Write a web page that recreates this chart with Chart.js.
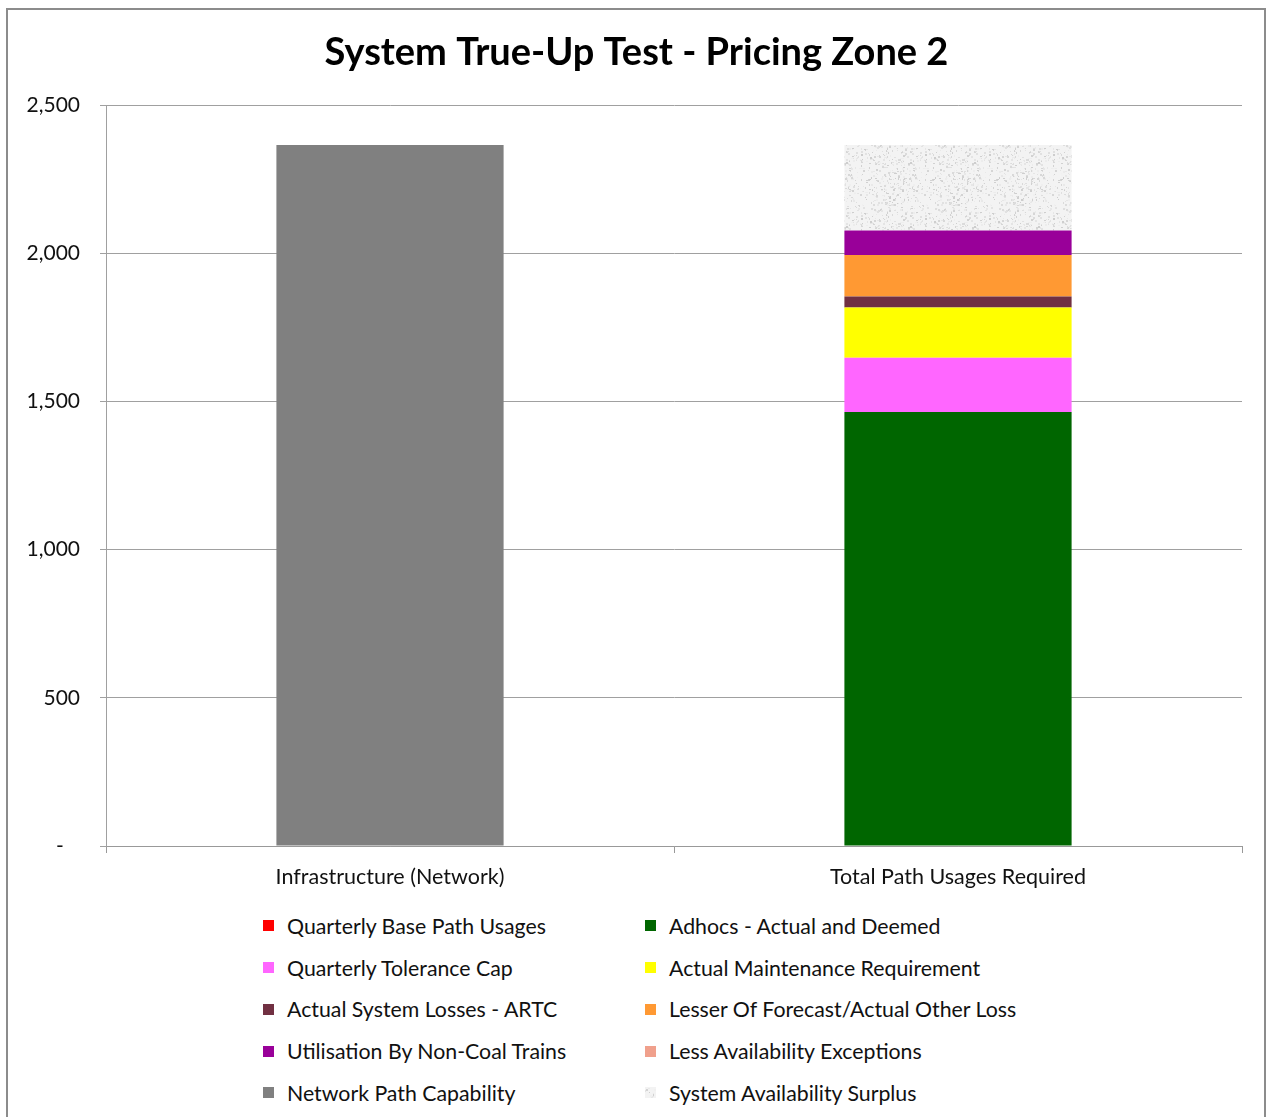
<!DOCTYPE html>
<html>
<head>
<meta charset="utf-8">
<title>System True-Up Test - Pricing Zone 2</title>
<script src="https://cdn.jsdelivr.net/npm/chart.js@4.4.1/dist/chart.umd.min.js"></script>
<style>
    html, body { margin: 0; padding: 0; background: #fff; }
    #frame {
        position: absolute; left: 6px; top: 8px; width: 1260px; height: 1130px;
        border: 2px solid #8c8c8c; box-sizing: border-box;
    }
    #chart-wrap { position: absolute; left: 0; top: 0; width: 1266px; height: 900px; }
    #legend {
        position: absolute; left: 263px; top: 905px;
        display: grid; grid-template-columns: 382px 420px; grid-auto-rows: 41.75px;
        font-family: Lato, "Open Sans", sans-serif; font-size: 21.3px; color: #111;
    }
    .legend-item { display: flex; align-items: center; white-space: nowrap; }
    .legend-box { width: 11px; height: 11px; margin-right: 13px; flex: none; }
</style>
</head>
<body>
<div id="frame"></div>
<div id="chart-wrap"><canvas id="truth-chart"></canvas></div>
<div id="legend"></div>
<script>
// ===================================================================
// DATA
// ===================================================================
const categories = ['Infrastructure (Network)', 'Total Path Usages Required'];

const quarterlyBasePathUsages = [0, 0];
const adhocsActualDeemed = [0, 1464];
const quarterlyToleranceCap = [0, 183];
const actualMaintenance = [0, 170];
const systemLossesArtc = [0, 37];
const otherLoss = [0, 140];
const nonCoalTrains = [0, 83];
const availabilityExceptions = [0, 0];
const networkPathCapability = [2365, 0];
const availabilitySurplus = [0, 288];

const yTicks = [0, 500, 1000, 1500, 2000, 2500];

document.addEventListener('DOMContentLoaded', () => {
    // ===================================================================
    // SURPLUS TEXTURE (light speckled grey, deterministic)
    // ===================================================================
    function makeSpeckle() {
        const c = document.createElement('canvas');
        c.width = 64; c.height = 64;
        const g = c.getContext('2d');
        g.fillStyle = '#f3f3f3';
        g.fillRect(0, 0, 64, 64);
        let seed = 12345;
        const next = () => { seed = (seed * 1103515245 + 12345) % 2147483648; return seed / 2147483648; };
        for (let i = 0; i < 500; i++) {
            const shade = 205 + Math.floor(next() * 40);
            g.fillStyle = `rgb(${shade},${shade},${shade})`;
            g.fillRect(Math.floor(next() * 64), Math.floor(next() * 64), 1 + Math.floor(next() * 2), 1 + Math.floor(next() * 2));
        }
        return c;
    }
    const speckle = makeSpeckle();
    const surplusFill = document.createElement('canvas').getContext('2d').createPattern(speckle, 'repeat');

    const series = [
        { label: 'Quarterly Base Path Usages', data: quarterlyBasePathUsages, color: '#ff0000' },
        { label: 'Adhocs - Actual and Deemed', data: adhocsActualDeemed, color: '#006600' },
        { label: 'Quarterly Tolerance Cap', data: quarterlyToleranceCap, color: '#ff66ff' },
        { label: 'Actual Maintenance Requirement', data: actualMaintenance, color: '#ffff00' },
        { label: 'Actual System Losses - ARTC', data: systemLossesArtc, color: '#713042' },
        { label: 'Lesser Of Forecast/Actual Other Loss', data: otherLoss, color: '#ff9933' },
        { label: 'Utilisation By Non-Coal Trains', data: nonCoalTrains, color: '#990099' },
        { label: 'Less Availability Exceptions', data: availabilityExceptions, color: '#f0a08c' },
        { label: 'Network Path Capability', data: networkPathCapability, color: '#808080' },
        { label: 'System Availability Surplus', data: availabilitySurplus, color: surplusFill, swatch: speckle.toDataURL() },
    ];

    // ===================================================================
    // CHART
    // ===================================================================
    const ctx = document.getElementById('truth-chart').getContext('2d');
    new Chart(ctx, {
        type: 'bar',
        data: {
            labels: categories,
            datasets: series.map(s => ({
                label: s.label,
                data: s.data,
                backgroundColor: s.color,
                borderWidth: 0,
                barPercentage: 0.4,
                categoryPercentage: 1,
            })),
        },
        options: {
            responsive: true,
            maintainAspectRatio: false,
            animation: false,
            layout: { padding: { left: 7, right: 0, top: 0, bottom: 0 } },
            plugins: {
                legend: { display: false },
                tooltip: { enabled: false },
                title: {
                    display: true,
                    text: 'System True-Up Test - Pricing Zone 2',
                    color: '#000',
                    font: { family: 'Lato', size: 38, weight: 'bold' },
                    padding: { top: 30, bottom: 29.4 },
                },
            },
            scales: {
                x: {
                    stacked: true,
                    offset: true,
                    grid: { display: true, drawOnChartArea: false, offset: true, tickLength: 7, color: '#999' },
                    border: { color: '#999', width: 1 },
                    ticks: { color: '#111', padding: 11, font: { family: 'Lato', size: 21.5 } },
                    afterFit: scale => { scale.height = 54; },
                },
                y: {
                    stacked: true,
                    min: yTicks[0],
                    max: yTicks[yTicks.length - 1],
                    afterBuildTicks: scale => { scale.ticks = yTicks.map(v => ({ value: v })); },
                    grid: { color: '#a0a0a0', tickLength: 6 },
                    border: { color: '#a0a0a0', width: 1 },
                    ticks: {
                        color: '#111',
                        padding: 20,
                        font: { family: 'Lato', size: 21 },
                        callback: v => v === 0 ? '-   ' : v.toLocaleString('en-US'),
                    },
                    afterFit: scale => { scale.width = 99; },
                },
                // empty spacer on the right so the plot stops short of the frame
                spacer: {
                    type: 'linear',
                    position: 'right',
                    display: true,
                    grid: { display: false },
                    border: { display: false },
                    ticks: { display: false },
                    afterFit: scale => { scale.width = 24; },
                },
            },
        },
    });

    // ===================================================================
    // LEGEND (two columns, like the original)
    // ===================================================================
    const legend = document.getElementById('legend');
    series.forEach(s => {
        const item = document.createElement('div');
        item.className = 'legend-item';
        const box = s.swatch
            ? `<span class="legend-box" style="background:url(${s.swatch})"></span>`
            : `<span class="legend-box" style="background:${s.color}"></span>`;
        item.innerHTML = `${box}<span>${s.label}</span>`;
        legend.appendChild(item);
    });
});
</script>
</body>
</html>
